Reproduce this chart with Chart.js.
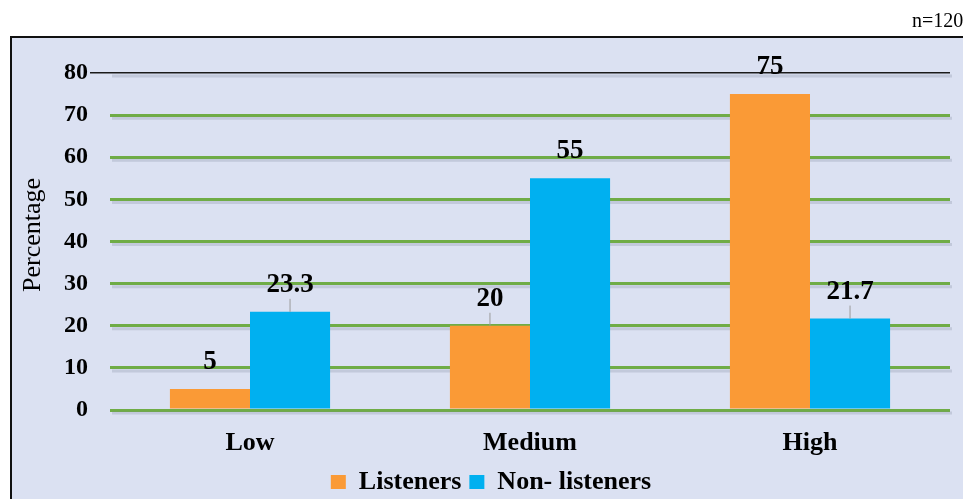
<!DOCTYPE html>
<html>
<head>
<meta charset="utf-8">
<script src="https://cdn.jsdelivr.net/npm/chart.js@4"></script>
<style>
  html, body { margin: 0; padding: 0; background: #fff; }
  #wrap { width: 963px; height: 499px; }
</style>
</head>
<body>
<div id="wrap"><canvas id="levelChart" width="963" height="499"></canvas></div>
<script>
var levels = ['Low', 'Medium', 'High'];
var listeners = [5, 20, 75];
var nonListeners = [23.3, 55, 21.7];
var yTicks = [0, 10, 20, 30, 40, 50, 60, 70, 80];

var serif = '"Liberation Serif", "Times New Roman", serif';

// panel background, border, sample size and axis title
var backdrop = {
    id: 'backdrop',
    beforeDraw: function (chart) {
        var c = chart.ctx;
        c.save();
        c.fillStyle = '#ffffff';
        c.fillRect(0, 0, chart.width, chart.height);
        c.fillStyle = '#dbe1f2';
        c.fillRect(10, 36, chart.width, chart.height);
        c.strokeStyle = '#111';
        c.lineWidth = 2;
        c.beginPath();
        c.moveTo(11, chart.height);
        c.lineTo(11, 37);
        c.lineTo(chart.width, 37);
        c.stroke();
        c.fillStyle = '#000';
        c.font = '20px ' + serif;
        c.textBaseline = 'middle';
        c.fillText('n=120', 912, 22);
        c.translate(33, 235);
        c.rotate(-Math.PI / 2);
        c.textAlign = 'center';
        c.font = '26px ' + serif;
        c.fillText('Percentage', 0, 0);
        c.restore();
    },
    beforeDatasetsDraw: function (chart) {
        // soft shadow beneath each grid line
        var c = chart.ctx, y = chart.scales.y, a = chart.chartArea;
        c.save();
        c.strokeStyle = 'rgba(120,130,150,0.25)';
        c.lineWidth = 3;
        yTicks.forEach(function (v) {
            var py = y.getPixelForValue(v) + 3;
            c.beginPath();
            c.moveTo(a.left + 2, py);
            c.lineTo(a.right + 2, py);
            c.stroke();
        });
        c.restore();
    }
};

// value labels above bars, with a short leader where the label floats
var valueLabels = {
    id: 'valueLabels',
    afterDatasetsDraw: function (chart, args, opts) {
        var c = chart.ctx;
        c.save();
        c.font = 'bold 27px ' + serif;
        c.fillStyle = '#000';
        c.textAlign = 'center';
        c.textBaseline = 'middle';
        chart.data.datasets.forEach(function (ds, di) {
            chart.getDatasetMeta(di).data.forEach(function (bar, i) {
                var ly = bar.y - opts.offset;
                if (opts.leaders[di][i]) {
                    c.strokeStyle = '#9a9a9a';
                    c.lineWidth = 1;
                    c.beginPath();
                    c.moveTo(bar.x, ly + 14);
                    c.lineTo(bar.x, bar.y);
                    c.stroke();
                }
                c.fillText(String(ds.data[i]), bar.x, ly);
            });
        });
        c.restore();
    }
};

var ctx = document.getElementById('levelChart').getContext('2d');
var levelChart = new Chart(ctx, {
    type: 'bar',
    data: {
        labels: levels,
        datasets: [{
            label: 'Listeners',
            data: listeners,
            backgroundColor: '#fa9a36'
        }, {
            label: 'Non- listeners',
            data: nonListeners,
            backgroundColor: '#00b0f0'
        }]
    },
    options: {
        responsive: false,
        animation: false,
        layout: { padding: { top: 73, right: 13, left: 32, bottom: -6 } },
        datasets: { bar: { categoryPercentage: 0.572, barPercentage: 1 } },
        scales: {
            x: {
                grid: { display: false, drawTicks: false },
                border: { display: false },
                ticks: { color: '#000', font: { family: serif, size: 26, weight: 'bold' }, padding: 18 },
                afterFit: function (s) { s.height = 51; }
            },
            y: {
                min: 0,
                max: 80,
                afterBuildTicks: function (s) { s.ticks = yTicks.map(function (v) { return { value: v }; }); },
                border: { display: false },
                grid: {
                    color: function (c) { return c.tick && c.tick.value === 80 ? '#1a1a1a' : '#6fac46'; },
                    lineWidth: function (c) { return c.tick && c.tick.value === 80 ? 1.5 : 3; },
                    tickColor: function (c) { return c.tick && c.tick.value === 80 ? '#1a1a1a' : 'rgba(0,0,0,0)'; },
                    tickLength: 20
                },
                ticks: { color: '#000', font: { family: serif, size: 24, weight: 'bold' }, padding: 2 },
                afterFit: function (s) { s.width = 78; }
            }
        },
        plugins: {
            legend: {
                position: 'bottom',
                labels: {
                    color: '#000',
                    font: { family: serif, size: 26, weight: 'bold' },
                    boxWidth: 15,
                    boxHeight: 14,
                    padding: 8
                }
            },
            tooltip: { enabled: false },
            valueLabels: {
                offset: 27,
                leaders: [[false, true, false], [true, false, true]]
            }
        }
    },
    plugins: [backdrop, valueLabels]
});
</script>
</body>
</html>
